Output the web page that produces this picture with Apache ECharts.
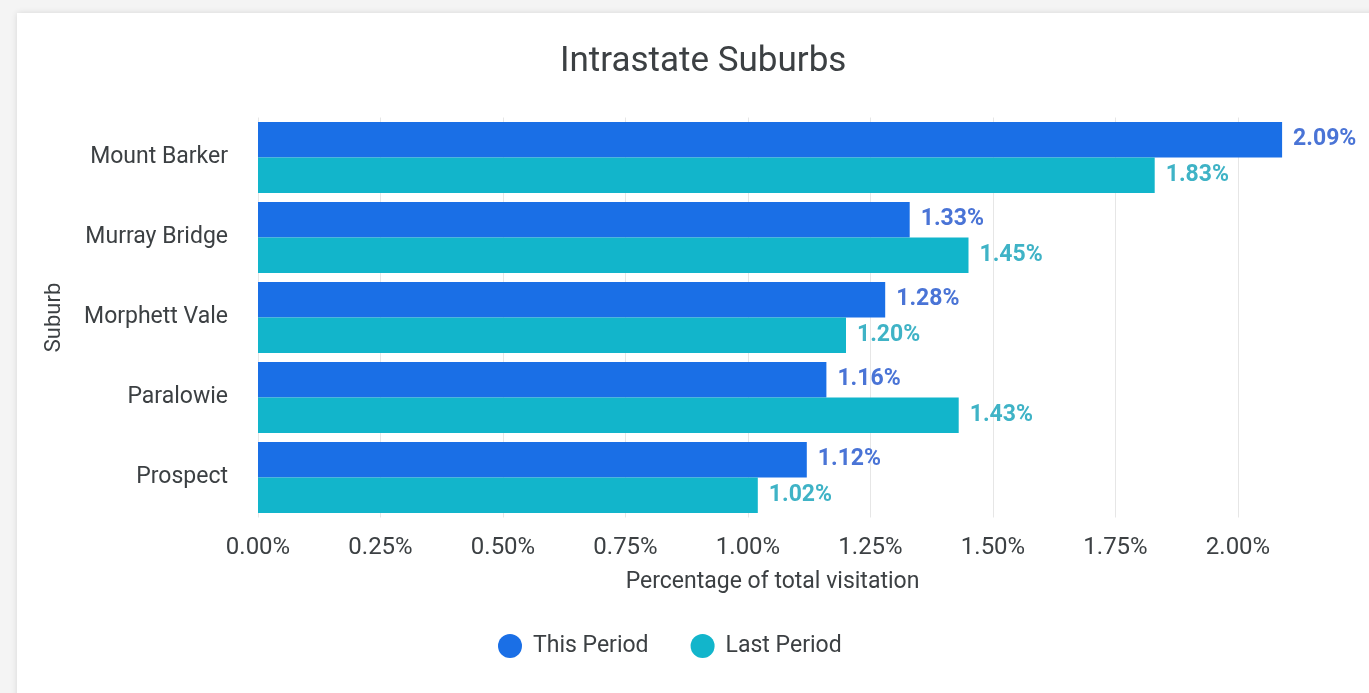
<!DOCTYPE html>
<html>
<head>
<meta charset="utf-8">
<script src="https://cdn.jsdelivr.net/npm/echarts@6/dist/echarts.min.js"></script>
<style>
html,body{margin:0;padding:0;width:1369px;height:693px;background:#f4f4f4;overflow:hidden;}
#card{position:absolute;left:17px;top:13px;width:1370px;height:690px;background:#fff;box-shadow:0 0 6px rgba(0,0,0,0.12);}
#chart{position:absolute;left:0;top:0;width:1369px;height:693px;}
</style>
</head>
<body>
<div id="card"></div>
<div id="chart"></div>
<script>
const categories = ['Mount Barker', 'Murray Bridge', 'Morphett Vale', 'Paralowie', 'Prospect'];
const thisPeriod = [2.09, 1.33, 1.28, 1.16, 1.12];
const lastPeriod = [1.83, 1.45, 1.20, 1.43, 1.02];
const seriesNames = ['This Period', 'Last Period'];

const chart = echarts.init(document.getElementById('chart'));
const font = 'Roboto, "Noto Sans", sans-serif';
chart.setOption({
  animation: false,
  textStyle: { fontFamily: font },
  title: {
    text: 'Intrastate Suburbs',
    left: 555,
    top: 40,
    textStyle: { fontSize: 35, fontWeight: 'normal', color: '#3c4043', fontFamily: font }
  },
  legend: {
    bottom: 30,
    left: 493,
    icon: 'circle',
    itemWidth: 24,
    itemHeight: 24,
    itemGap: 42,
    textStyle: { fontSize: 23, color: '#3c4043', fontFamily: font, padding: [0, 0, 0, 6] },
    data: seriesNames
  },
  grid: { left: 258, right: 82, top: 117.5, bottom: 175.5, containLabel: false },
  xAxis: {
    type: 'value',
    min: 0,
    max: 2.1,
    interval: 0.25,
    name: 'Percentage of total visitation',
    nameLocation: 'middle',
    nameGap: 53,
    nameTextStyle: { fontSize: 23, color: '#3c4043', fontFamily: font },
    axisLine: { show: false },
    axisTick: { show: false },
    axisLabel: {
      fontSize: 24, color: '#3c4043', margin: 18, showMaxLabel: false,
      formatter: v => v.toFixed(2) + '%'
    },
    splitLine: { show: true, showMaxLine: false, lineStyle: { color: '#e6e6e6', width: 1 } }
  },
  yAxis: {
    type: 'category',
    data: categories,
    inverse: true,
    name: 'Suburb',
    nameLocation: 'middle',
    nameGap: 193,
    nameRotate: 90,
    nameTextStyle: { fontSize: 22, color: '#3c4043', fontFamily: font },
    axisLine: { show: false },
    axisTick: { show: false },
    axisLabel: { fontSize: 23, color: '#3c4043', margin: 30 }
  },
  series: [
    {
      name: seriesNames[0],
      type: 'bar',
      data: thisPeriod,
      barGap: '0%',
      barCategoryGap: '11%',
      itemStyle: { color: '#1a6fe6' },
      label: {
        show: true, position: 'right', distance: 11,
        fontSize: 23, fontWeight: 'bold', color: '#4a74d6',
        formatter: p => p.value.toFixed(2) + '%'
      }
    },
    {
      name: seriesNames[1],
      type: 'bar',
      data: lastPeriod,
      barGap: '0%',
      barCategoryGap: '11%',
      itemStyle: { color: '#12b5cb' },
      label: {
        show: true, position: 'right', distance: 11,
        fontSize: 23, fontWeight: 'bold', color: '#3fb3c6',
        formatter: p => p.value.toFixed(2) + '%'
      }
    }
  ]
});
</script>
</body>
</html>
